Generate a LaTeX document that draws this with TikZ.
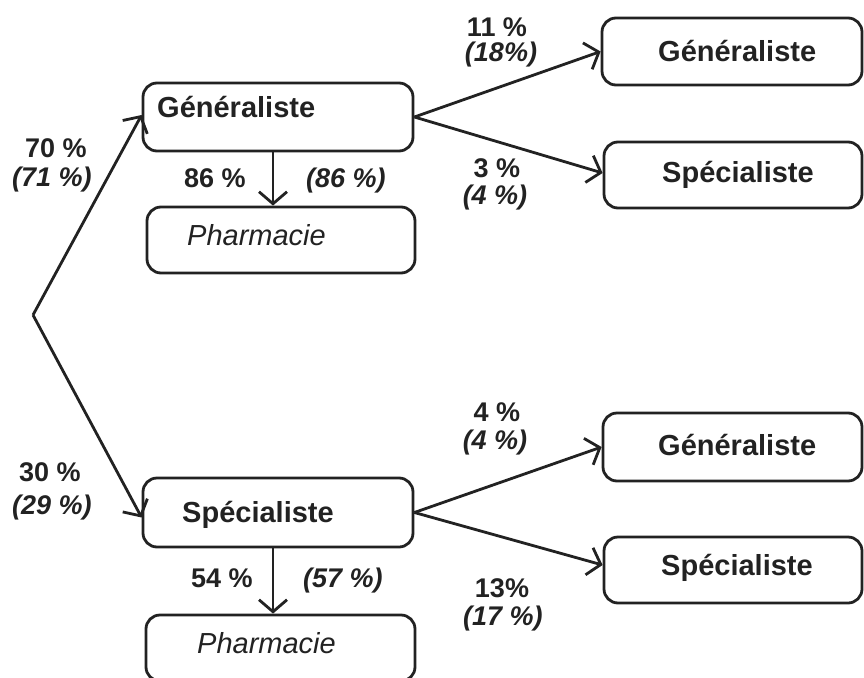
\documentclass[tikz,border=0pt]{standalone}
\usepackage{fontspec}
\setmainfont{Liberation Sans}
\usetikzlibrary{arrows.meta}
\definecolor{ink}{RGB}{34,34,34}
\begin{document}
\begin{tikzpicture}[x=1pt,y=-1pt,
  box/.style={draw=ink,line width=2.8pt,rounded corners=14pt,inner sep=0pt},
  btxt/.style={anchor=base west,inner sep=0pt,text=ink,font=\fontsize{29}{30}\selectfont\bfseries},
  ptxt/.style={anchor=base west,inner sep=0pt,text=ink,font=\fontsize{29}{30}\selectfont\itshape},
  pct/.style={anchor=base,inner sep=0pt,text=ink,font=\fontsize{27}{28}\selectfont\bfseries},
  pcti/.style={anchor=base,inner sep=0pt,text=ink,font=\fontsize{27}{28}\selectfont\bfseries\itshape},
  conn/.style={draw=ink,line width=2.8pt,-{Straight Barb[length=12pt,width=28pt]}},
  plain/.style={draw=ink,line width=2.8pt}]
\useasboundingbox (0,0) rectangle (864,677);
% boxes
\node[box,minimum width=270pt,minimum height=68pt] (g1) at (278,117) {};
\node[box,minimum width=268pt,minimum height=66pt] (p1) at (281,240) {};
\node[box,minimum width=260pt,minimum height=67pt] (rg1) at (732,51.5) {};
\node[box,minimum width=258pt,minimum height=66pt] (rs1) at (733,175) {};
\node[box,minimum width=270pt,minimum height=69pt] (s2) at (278,512.5) {};
\node[box,minimum width=269pt,minimum height=66pt] (p2) at (280.5,648) {};
\node[box,minimum width=259pt,minimum height=68pt] (rg2) at (732.5,447) {};
\node[box,minimum width=258pt,minimum height=66pt] (rs2) at (733,570) {};
% box texts
\node[btxt] (g1t) at (157,117) {Généraliste};
\node[ptxt] (p1t) at (187,245) {Pharmacie};
\node[btxt] (rg1t) at (658,61) {Généraliste};
\node[btxt] (rs1t) at (662,182) {Spécialiste};
\node[btxt] (s2t) at (182,522) {Spécialiste};
\node[ptxt] (p2t) at (197,653) {Pharmacie};
\node[btxt] (rg2t) at (658,455) {Généraliste};
\node[btxt] (rs2t) at (661,575) {Spécialiste};
% apex
\coordinate (A) at (33,315);
% connectors
\draw[conn] (A) -- ([yshift=2pt]g1.west);
\draw[conn] (A) -- ([yshift=-5pt]s2.west);
\draw[conn] (g1.east) -- (rg1.west);
\draw[conn] (g1.east) -- ([yshift=2pt]rs1.west);
\draw[conn] ([xshift=-5pt]g1.south) -- ([xshift=-8pt]p1.north);
\draw[conn] (s2.east) -- (rg2.west);
\draw[conn] (s2.east) -- ([yshift=5pt]rs2.west);
\draw[conn] ([xshift=-5pt]s2.south) -- ([xshift=-7.5pt]p2.north);
% labels
\node[pct] (l70) at (56,157) {70 \%};
\node[pcti] (l71) at (52,186) {(71 \%)};
\node[pct] (l30) at (50,481) {30 \%};
\node[pcti] (l29) at (52,514) {(29 \%)};
\node[pct] (l86a) at (215,187) {86 \%};
\node[pcti] (l86b) at (346,187) {(86 \%)};
\node[pct] (l11) at (497,37) {11 \%};
\node[pcti] (l18) at (501,62) {(18\%)};
\node[pct] (l3) at (497,177) {3 \%};
\node[pcti] (l4a) at (495,204) {(4 \%)};
\node[pct] (l4b) at (497,421) {4 \%};
\node[pcti] (l4c) at (495,449) {(4 \%)};
\node[pct] (l13) at (502,597) {13\%};
\node[pcti] (l17) at (503,625) {(17 \%)};
\node[pct] (l54) at (222,587) {54 \%};
\node[pcti] (l57) at (343,587) {(57 \%)};
\end{tikzpicture}
\end{document}
